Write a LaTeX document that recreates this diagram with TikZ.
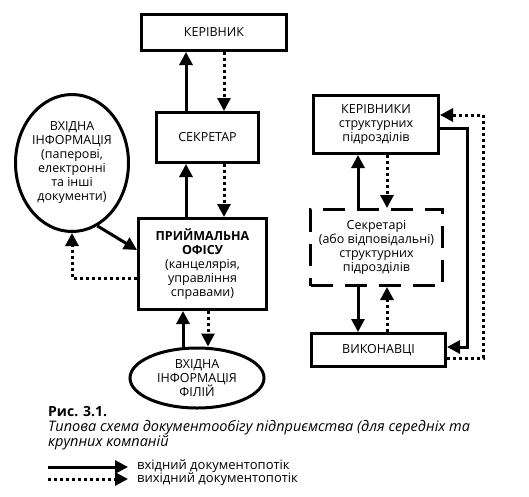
\documentclass[tikz,border=0pt]{standalone}
\usepackage{fontspec}
\setmainfont{Open Sans}
\usetikzlibrary{arrows.meta,shapes.geometric}

\tikzset{
  block/.style={draw, line width=3pt, align=center, inner sep=2pt,
    font=\fontsize{12.5}{14}\selectfont},
  oval/.style={block, ellipse, inner sep=0pt},
  dashblock/.style={block, dash pattern=on 22pt off 12pt},
  inflow/.style={line width=3pt, -{Triangle[width=13pt,length=13pt]}},
  outflow/.style={inflow, dash pattern=on 3pt off 3pt},
}

\begin{document}
\begin{tikzpicture}[x=1pt, y=-1pt]
    \useasboundingbox (0,0) rectangle (529,496);
    % left column
    \node[block, minimum width=145, minimum height=36] (boss) at (214,32.5) {КЕРІВНИК};
    \node[block, minimum width=102, minimum height=50] (secr) at (207.5,137.5) {СЕКРЕТАР};
    \node[block, minimum width=128, minimum height=91] (office) at (202.5,264)
        {\textbf{ПРИЙМАЛЬНА}\\\textbf{ОФІСУ}\\(канцелярія,\\управління\\справами)};
    \node[oval, minimum width=113, minimum height=137] (inbox) at (72,163)
        {ВХІДНА\\ІНФОРМАЦІЯ\\(паперові,\\електронні\\та інші\\документи)};
    \node[oval, minimum width=134, minimum height=60] (branch) at (197,378)
        {ВХІДНА\\ІНФОРМАЦІЯ\\ФІЛІЙ};
    % right column
    \node[block, minimum width=125, minimum height=58] (heads) at (376,124.5)
        {КЕРІВНИКИ\\структурних\\підрозділів};
    \node[dashblock, minimum width=132, minimum height=76] (subsec) at (376.5,247.5)
        {Секретарі\\(або відповідальні)\\структурних\\підрозділів};
    \node[block, minimum width=134, minimum height=33] (staff) at (378.5,350) {ВИКОНАВЦІ};
    % columns of the connectors
    \coordinate (colA) at (186,0);
    \coordinate (colB) at (224,0);
    \coordinate (colC) at (183,0);
    \coordinate (colD) at (208,0);
    \coordinate (colE) at (358,0);
    \coordinate (colF) at (387,0);
    \coordinate (loopA) at (467,0);
    \coordinate (loopB) at (483,0);
    % flows of the left column
    \draw[inflow] (secr.north -| colA) -- (boss.south -| colA);
    \draw[outflow] (boss.south -| colB) -- (secr.north -| colB);
    \draw[inflow] (office.north -| colA) -- (secr.south -| colA);
    \draw[outflow] (secr.south -| colB) -- (office.north -| colB);
    \draw[inflow] (branch.north -| colC) -- (office.south -| colC);
    \draw[outflow] (office.south -| colD) -- (branch.north -| colD);
    \draw[inflow] (inbox.-68) -- ([yshift=14pt]office.west);
    \draw[outflow] ([yshift=-14pt]office.west) -| (inbox.south);
    % flows of the right column
    \draw[inflow] (subsec.north -| colE) -- (heads.south -| colE);
    \draw[outflow] (heads.south -| colF) -- (subsec.north -| colF);
    \draw[inflow] (subsec.south -| colE) -- (staff.north -| colE);
    \draw[outflow] (staff.north -| colF) -- (subsec.south -| colF);
    \draw[inflow] ([yshift=-4pt]heads.east) -| ([yshift=3pt]staff.east -| loopA)
        -- ([yshift=3pt]staff.east);
    \draw[outflow] ([yshift=-8pt]staff.east) -| ([yshift=9.5pt]heads.east -| loopB)
        -- ([yshift=9.5pt]heads.east);
    % caption
    \node[anchor=west, inner sep=0pt, font=\fontsize{14}{14}\selectfont\bfseries] (fig) at (48,412) {Рис. 3.1.};
    \node[anchor=north west, align=left, inner sep=0pt, font=\fontsize{14.5}{14}\selectfont\itshape]
        (title) at (48,420) {Типова схема документообігу підприємства (для середніх та\\крупних компаній};
    % legend
    \coordinate (solidA) at (48,467);
    \coordinate (solidB) at (128,467);
    \coordinate (dotA) at (48,479);
    \coordinate (dotB) at (128,479);
    \draw[inflow] (solidA) -- (solidB);
    \draw[outflow] (dotA) -- (dotB);
    \node[anchor=west, inner sep=0pt, font=\fontsize{13}{13}\selectfont] (inlabel) at (137,466) {вхідний документопотік};
    \node[anchor=west, inner sep=0pt, font=\fontsize{13}{13}\selectfont] (outlabel) at (137,479) {вихідний документопотік};
\end{tikzpicture}
\end{document}
